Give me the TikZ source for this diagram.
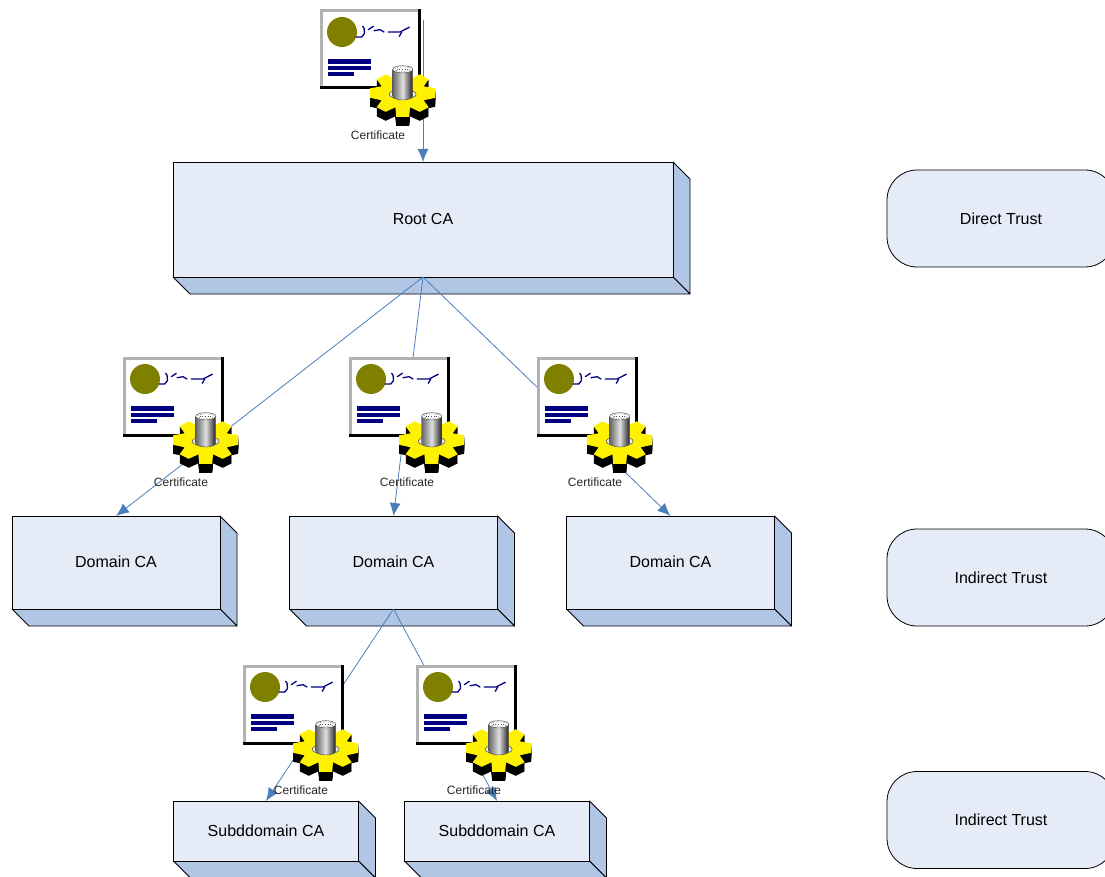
\documentclass[tikz,border=0pt]{standalone}
\usepackage{fontspec}
\setmainfont{Liberation Sans}
\definecolor{boxfront}{HTML}{E6ECF7}
\definecolor{boxside}{HTML}{B0C6E4}
\definecolor{linkblue}{HTML}{4A7EBB}
\definecolor{certolive}{HTML}{808000}
\definecolor{certnavy}{HTML}{000080}
\definecolor{certgray}{HTML}{B2B2B2}
\usetikzlibrary{arrows.meta}
\newcommand{\gearpath}{(6,-22) -- (7.3,-15) -- (17,-20) -- (26,-15) -- (21,-8) -- (32.5,-6) -- (32.5,3.5) -- (21,6) -- (26,13) -- (17,17.5) -- (7.3,13) -- (6.5,22.5)
  -- (-6.5,22.5) -- (-7.3,13) -- (-17,17.5) -- (-26,13) -- (-21,6) -- (-32.5,3.5) -- (-32.5,-6) -- (-21,-8) -- (-26,-15) -- (-17,-20) -- (-7.3,-15) -- (-6,-22) -- cycle}
\tikzset{
  cafront/.style={draw=black,line width=0.8pt,fill=boxfront,inner sep=0pt,outer sep=0pt,font=\fontsize{16}{18}\selectfont},
  caface/.style={draw=black,line width=0.8pt,fill=boxside,line join=round},
  trustbox/.style={draw=black,line width=0.8pt,fill=boxfront,rounded corners=30pt,minimum width=228pt,minimum height=97pt,inner sep=0pt,font=\fontsize{16}{18}\selectfont},
  linkline/.style={draw=linkblue,line width=0.8pt},
  linkarrow/.style={linkline,-{Latex[length=13pt,width=11pt]}},
  certlabel/.style={inner sep=0pt,text=black!85,font=\fontsize{12}{14}\selectfont},
  certsign/.style={certnavy,line width=1.3pt,line join=round,line cap=round},
  certificate/.pic={
    % sheet
    \fill[white] (0,0) rectangle (98,77);
    \draw[certgray,line width=3pt] (0,77) -- (0,0) -- (98,0);
    \draw[black,line width=3pt] (98,-1.5) -- (98,77) -- (-1.5,77);
    \fill[certolive] (21,21) circle[radius=15pt];
    \draw[certsign] (35,26) -- (40.7,26) .. controls (43,25) and (44,21) .. (43.3,20.3) .. controls (43.5,18) and (43,16) .. (41.7,15.3);
    \draw[certsign] (47.3,18.7) -- (52.3,15.3);
    \draw[certsign] (53,19.7) -- (59,18.7) -- (63,21);
    \draw[certsign] (67.3,21) -- (79,21) -- (88.3,16.3);
    \draw[certsign] (80.7,21) -- (78.3,25.3);
    \fill[certnavy] (7,48) rectangle (50,53);
    \fill[certnavy] (7,55) rectangle (50,59);
    \fill[certnavy] (7,61) rectangle (33,65);
    % gear
    \foreach \off in {9,8,...,1} {
      \fill[black] ([shift={(81.7,83.3+\off)}]0,0) ++(0,0);
      \begin{scope}[shift={(81.7,83.3+\off)}]
        \fill[black] \gearpath;
      \end{scope}
    }
    \begin{scope}[shift={(81.7,83.3)}]
      \fill[yellow] \gearpath;
    \end{scope}
    \draw[black!70,fill=black!8,line width=0.5pt] (81.7,83.3) ellipse[x radius=13.5pt,y radius=5pt];
    % cylinder
    \shade[left color=black!60,right color=black!88,middle color=black!12]
      (71.7,58.3) -- (91.7,58.3) -- (91.7,85) arc[start angle=0,end angle=-180,x radius=10pt,y radius=4pt] -- cycle;
    \draw[black!70,line width=0.4pt] (71.7,58.3) -- (71.7,85) arc[start angle=-180,end angle=0,x radius=10pt,y radius=4pt] -- (91.7,58.3);
    \draw[black!70,fill=white,line width=0.5pt] (81.7,58.3) ellipse[x radius=10pt,y radius=3.6pt];
    \draw[black!70,dotted,line width=0.6pt] (81.7,58.3) ellipse[x radius=7.5pt,y radius=2.4pt];
    \draw[black!70,dotted,line width=0.6pt] (75.7,58.3) -- (87.7,58.3);
    \node[certlabel] (label) at (57,124.4) {Certificate};
  }
}
\newcommand{\cabox}[6]{% name, cx, cy, width, height, text
  \node[cafront,minimum width=#4 pt,minimum height=#5 pt] (#1) at (#2,#3) {};
  \path[caface] (#1.north east) -- ++(17,17) -- ++(0,#5) -- (#1.south east) -- cycle;
  \path[caface] (#1.south west) -- ++(17,17) -- ++(#4,0) -- (#1.south east) -- cycle;
  \node[cafront] (#1) at (#2,#3) [minimum width=#4 pt,minimum height=#5 pt] {\raisebox{1pt}{#6}};
}
\begin{document}
\begin{tikzpicture}[x=1pt,y=-1pt]
  \useasboundingbox (0,0) rectangle (1105,877);
  \clip (0,0) rectangle (1105,877);
  % CA boxes
  \cabox{root}{423}{219.5}{500}{115}{Root CA}
  \cabox{dom1}{116}{562.5}{208}{93}{Domain CA}
  \cabox{dom2}{393.5}{562.5}{208}{93}{Domain CA}
  \cabox{dom3}{670.5}{562.5}{208}{93}{Domain CA}
  \cabox{sub1}{266}{831}{185}{60}{Subddomain CA}
  \cabox{sub2}{497}{831}{185}{60}{Subddomain CA}
  % trust labels
  \node[trustbox] (direct) at (1001,218.5) {Direct Trust};
  \node[trustbox] (indirectA) at (1001,577.5) {Indirect Trust};
  \node[trustbox] (indirectB) at (1001,820) {Indirect Trust};
  % links
  \coordinate (rootentry) at (423,20);
  \draw[linkarrow] (rootentry) -- (root.north);
  \draw[linkarrow] (root.south) -- (dom1.north);
  \draw[linkarrow] (root.south) -- (dom2.north);
  \draw[linkarrow] (root.south) -- (dom3.north);
  \draw[linkarrow] (dom2.south) -- (sub1.north);
  \draw[linkarrow] (dom2.south) -- (sub2.north);
  % certificates
  \pic (certroot) at (321,11) {certificate};
  \pic (certa) at (124,358) {certificate};
  \pic (certb) at (350,358) {certificate};
  \pic (certc) at (538,358) {certificate};
  \pic (certd) at (244,666) {certificate};
  \pic (certe) at (417,666) {certificate};
\end{tikzpicture}
\end{document}
